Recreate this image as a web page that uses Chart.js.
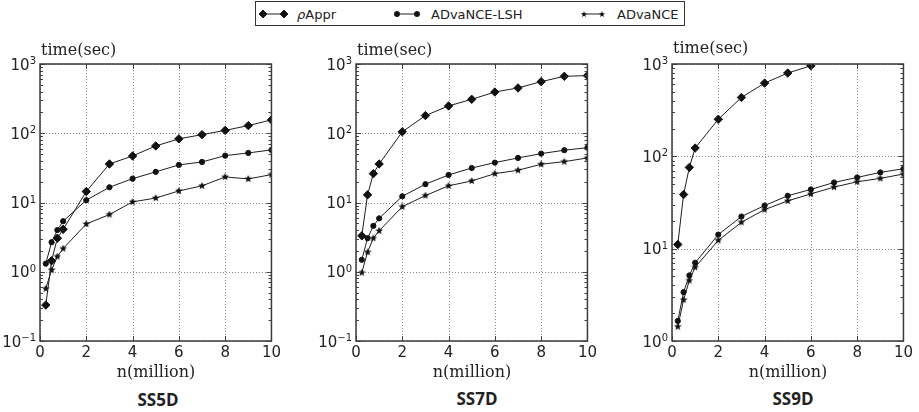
<!DOCTYPE html>
<html><head><meta charset="utf-8">
<script src="https://cdn.jsdelivr.net/npm/chart.js@4"></script>
<style>
html,body{margin:0;padding:0;background:#fff;}
body{width:919px;height:412px;position:relative;overflow:hidden;font-family:'DejaVu Sans',sans-serif;color:#222;}
canvas.p{position:absolute;}
.t{position:absolute;white-space:nowrap;line-height:1;}
.serif{font-family:'DejaVu Serif',serif;font-size:16px;color:#222;}
.cap{font-family:'Open Sans',sans-serif;font-weight:700;font-size:17px;color:#222;transform:translate(-50%,-50%);}
.ctr{transform:translate(-50%,-50%);}
#legend{position:absolute;left:255px;top:1px;width:430px;height:25px;border:1px solid #333;box-sizing:border-box;}
.lt{position:absolute;font-size:13px;top:14px;transform:translateY(-50%);color:#222;}
</style></head>
<body>
<div id="legend"></div>
<svg width="919" height="30" style="position:absolute;left:0;top:0">
  <g stroke="#222" stroke-width="1" fill="#111">
    <line x1="261" y1="14" x2="287" y2="14"/>
    <path d="M263 10 L267 14 L263 18 L259 14 Z"/>
    <path d="M284 10 L288 14 L284 18 L280 14 Z"/>
    <line x1="395" y1="14" x2="418" y2="14"/>
    <circle cx="397" cy="14" r="2.6"/>
    <circle cx="417" cy="14" r="2.6"/>
    <line x1="582" y1="14" x2="603" y2="14"/>
  </g>
  <g fill="#111">
    <path d="M584 11 L584.8 13.2 L587 13.3 L585.3 14.7 L585.9 17 L584 15.7 L582.1 17 L582.7 14.7 L581 13.3 L583.2 13.2 Z"/>
    <path d="M602 11 L602.8 13.2 L605 13.3 L603.3 14.7 L603.9 17 L602 15.7 L600.1 17 L600.7 14.7 L599 13.3 L601.2 13.2 Z"/>
  </g>
</svg>
<div class="lt" style="left:297px"><i>ρ</i>Appr</div>
<div class="lt" style="left:431px">ADvaNCE-LSH</div>
<div class="lt" style="left:617px">ADvaNCE</div>

<canvas class="p" id="c1" style="left:0px;top:50px"></canvas>
<canvas class="p" id="c2" style="left:316px;top:50px"></canvas>
<canvas class="p" id="c3" style="left:632px;top:50px"></canvas>

<div class="t serif" style="left:41px;top:42px">time(sec)</div>
<div class="t serif" style="left:357px;top:42px">time(sec)</div>
<div class="t serif" style="left:673px;top:40px">time(sec)</div>
<div class="t serif ctr" style="left:156px;top:372px">n(million)</div>
<div class="t serif ctr" style="left:472px;top:372px">n(million)</div>
<div class="t serif ctr" style="left:788px;top:372px">n(million)</div>
<div class="t cap" style="left:158px;top:399px">SS5D</div>
<div class="t cap" style="left:477px;top:398px">SS7D</div>
<div class="t cap" style="left:793px;top:398px">SS9D</div>

<script>
// ---- data ----
const nMillion = [0.25, 0.5, 0.75, 1, 2, 3, 4, 5, 6, 7, 8, 9, 10];
const nMillionAppr9 = [0.25, 0.5, 0.75, 1, 2, 3, 4, 5, 6];
const seriesNames = ['ρAppr', 'ADvaNCE-LSH', 'ADvaNCE'];

const ss5dAppr = [0.33, 1.44, 3.05, 4.1, 14.4, 36, 47, 65.6, 83, 95.5, 110, 129, 156];
const ss5dLSH  = [1.31, 2.67, 4.0, 5.37, 10.8, 16.6, 22.1, 27.7, 34.9, 38.5, 47.5, 52, 57.4];
const ss5dAdv  = [0.57, 1.06, 1.66, 2.16, 4.9, 6.7, 10.2, 11.6, 14.7, 17.4, 23.4, 21.9, 25.3];

const ss7dAppr = [3.3, 12.9, 26.1, 36, 105, 180, 248, 309, 394, 451, 556, 664, 680];
const ss7dLSH  = [1.49, 3.05, 4.6, 5.9, 12.3, 18.4, 25, 31.5, 37.7, 44, 50.8, 56.9, 62];
const ss7dAdv  = [0.97, 1.92, 3.05, 3.9, 8.7, 12.6, 17.4, 20.5, 26.1, 29.2, 35.7, 38.9, 44];

const ss9dAppr = [11.1, 38.6, 75.9, 123, 252, 434, 621, 798, 958];
const ss9dLSH  = [1.65, 3.38, 5.13, 7.04, 14.2, 22.3, 29.3, 37.4, 43.8, 52.1, 59.1, 67, 73.3];
const ss9dAdv  = [1.43, 2.79, 4.52, 6.3, 12.3, 19.3, 26.5, 32.9, 39.2, 46.4, 53, 57.7, 64.3];

const xTicks = [0, 2, 4, 6, 8, 10];
const yTicksA = [0.1, 1, 10, 100, 1000];
const yTickExpA = ['\u22121', '0', '1', '2', '3'];
const yTicksB = [1, 10, 100, 1000];
const yTickExpB = ['0', '1', '2', '3'];

// ---- helpers ----
function pts(xs, ys) { return ys.map((v, i) => ({x: xs[i], y: v})); }
function makeStar(size) {
  const c = document.createElement('canvas');
  c.width = c.height = size;
  const g = c.getContext('2d');
  g.fillStyle = '#111';
  g.beginPath();
  const cx = size / 2, cy = size / 2, R = size / 2, r = R * 0.45;
  for (let i = 0; i < 10; i++) {
    const a = -Math.PI / 2 + i * Math.PI / 5;
    const rr = i % 2 ? r : R;
    g.lineTo(cx + rr * Math.cos(a), cy + rr * Math.sin(a));
  }
  g.closePath(); g.fill();
  return c;
}
const starImg = makeStar(8);

const framePlugin = {
  id: 'frame',
  beforeDatasetsDraw(chart) {
    const {ctx, chartArea: a, scales: {x, y}} = chart;
    ctx.save();
    ctx.strokeStyle = '#8a8a8a';
    ctx.lineWidth = 1;
    ctx.setLineDash([1, 2]);
    ctx.beginPath();
    chart.$yTicks.forEach(v => {
      const py = Math.round(y.getPixelForValue(v)) + 0.5;
      ctx.moveTo(a.left, py); ctx.lineTo(a.right, py);
    });
    xTicks.forEach(v => {
      const px = Math.round(x.getPixelForValue(v)) + 0.5;
      ctx.moveTo(px, a.top); ctx.lineTo(px, a.bottom);
    });
    ctx.stroke();
    ctx.restore();
  },
  afterDraw(chart) {
    const {ctx, chartArea: a, scales: {x, y}} = chart;
    ctx.save();
    ctx.strokeStyle = '#444';
    ctx.lineWidth = 1;
    ctx.beginPath();
    const lo = Math.round(Math.log10(y.min)), hi = Math.round(Math.log10(y.max));
    for (let e = lo; e <= hi; e++) {
      for (let m = 1; m <= 9; m++) {
        const v = m * Math.pow(10, e);
        if (v < y.min * 0.999 || v > y.max * 1.001) continue;
        const py = Math.round(y.getPixelForValue(v)) + 0.5;
        const len = m === 1 ? 5 : 3;
        ctx.moveTo(a.left, py); ctx.lineTo(a.left + len, py);
        ctx.moveTo(a.right, py); ctx.lineTo(a.right - len, py);
      }
    }
    xTicks.forEach(v => {
      const px = Math.round(x.getPixelForValue(v)) + 0.5;
      ctx.moveTo(px, a.bottom); ctx.lineTo(px, a.bottom - 5);
      ctx.moveTo(px, a.top); ctx.lineTo(px, a.top + 5);
    });
    ctx.stroke();
    ctx.lineWidth = 1.5;
    ctx.strokeStyle = '#3a3a3a';
    ctx.strokeRect(a.left, a.top, a.right - a.left, a.bottom - a.top);

    // y tick labels: 10 with superscript exponent
    ctx.fillStyle = '#222';
    const baseFont = '15px "DejaVu Sans"', expFont = '10px "DejaVu Sans"';
    chart.$yTicks.forEach((v, i) => {
      const py = y.getPixelForValue(v);
      ctx.font = baseFont;
      const wb = ctx.measureText('10').width;
      ctx.font = expFont;
      const we = ctx.measureText(chart.$yExp[i]).width;
      const right = a.left - 4;
      ctx.font = baseFont;
      ctx.textBaseline = 'alphabetic';
      ctx.textAlign = 'left';
      ctx.fillText('10', right - wb - we, py + 5.5);
      ctx.font = expFont;
      ctx.fillText(chart.$yExp[i], right - we, py);
    });
    ctx.restore();
  }
};

function makeChart(id, xsAppr, appr, lsh, adv, yTicks, yExp) {
  const cv = document.getElementById(id);
  cv.width = 284; cv.height = 317;
  const lineCol = '#1e1e1e';
  new Chart(cv, {
    type: 'line',
    data: {
      datasets: [
        {label: seriesNames[0], data: pts(xsAppr, appr), borderColor: lineCol, borderWidth: 1,
         pointStyle: 'rectRot', pointRadius: 4.2, pointBackgroundColor: '#111', pointBorderColor: '#111', pointBorderWidth: 1},
        {label: seriesNames[1], data: pts(nMillion, lsh), borderColor: lineCol, borderWidth: 1,
         pointStyle: 'circle', pointRadius: 2.6, pointBackgroundColor: '#111', pointBorderColor: '#111', pointBorderWidth: 1},
        {label: seriesNames[2], data: pts(nMillion, adv), borderColor: lineCol, borderWidth: 1,
         pointStyle: starImg, pointRadius: 4}
      ]
    },
    options: {
      responsive: false, animation: false, devicePixelRatio: 1,
      layout: {padding: {top: 14, right: 12, left: 0, bottom: 0}},
      plugins: {legend: {display: false}, tooltip: {enabled: false}},
      elements: {line: {tension: 0, fill: false}},
      scales: {
        x: {
          type: 'linear', min: 0, max: 10,
          afterBuildTicks: s => { s.ticks = xTicks.map(v => ({value: v})); },
          afterFit: s => { s.height = 26; },
          ticks: {color: '#222', font: {family: 'DejaVu Sans', size: 15}, padding: 3, maxRotation: 0, autoSkip: false},
          grid: {drawTicks: false, drawOnChartArea: false},
          border: {display: false}
        },
        y: {
          type: 'logarithmic', min: yTicks[0], max: yTicks[yTicks.length - 1],
          afterBuildTicks: s => { s.ticks = yTicks.map(v => ({value: v})); },
          afterFit: s => { s.width = 40; },
          ticks: {display: false},
          grid: {drawTicks: false, drawOnChartArea: false},
          border: {display: false}
        }
      }
    },
    plugins: [{id: 'yt', beforeInit(c) { c.$yTicks = yTicks; c.$yExp = yExp; }}, framePlugin]
  });
}

makeChart('c1', nMillion, ss5dAppr, ss5dLSH, ss5dAdv, yTicksA, yTickExpA);
makeChart('c2', nMillion, ss7dAppr, ss7dLSH, ss7dAdv, yTicksA, yTickExpA);
makeChart('c3', nMillionAppr9, ss9dAppr, ss9dLSH, ss9dAdv, yTicksB, yTickExpB);
</script>
</body></html>
